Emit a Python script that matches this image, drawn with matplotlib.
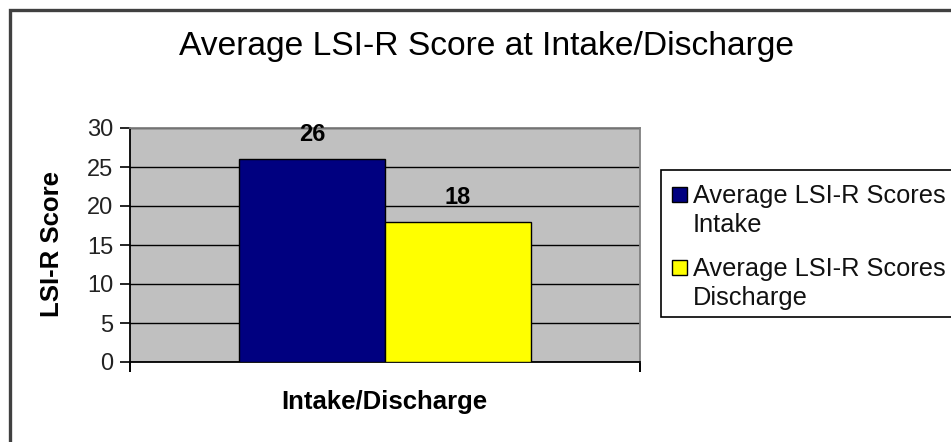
import matplotlib
matplotlib.use("Agg")
import matplotlib.pyplot as plt
from matplotlib.patches import Rectangle

plt.rcParams['font.family'] = ['Liberation Sans', 'DejaVu Sans']

series_names = ["Average LSI-R Scores\nIntake", "Average LSI-R Scores\nDischarge"]
series_values = [26, 18]
series_colors = ["#000080", "#FFFF00"]
category = "Intake/Discharge"
yticks = [0, 5, 10, 15, 20, 25, 30]

W, H = 951, 442
fig = plt.figure(figsize=(W / 100, H / 100), dpi=100)


def fx(px):
    return px / W


def fy(py):
    return 1 - py / H


# outer chart border
fig.patches.append(Rectangle((fx(10), -0.1), 1.2, (H - 10) / H + 0.1, transform=fig.transFigure,
                             fill=False, edgecolor="#404040", linewidth=2.4))

ax = fig.add_axes([fx(130), fy(362), 510 / W, (362 - 128) / H])
ax.set_facecolor("#C0C0C0")
ax.set_xlim(-0.5, 0.5)
ax.set_ylim(0, 30)

bw = 0.286
offsets = [-bw / 2, bw / 2]
for off, v, c, name in zip(offsets, series_values, series_colors, series_names):
    ax.bar(off, v, width=bw, color=c, edgecolor="black", linewidth=1.0, zorder=3, label=name)
    ax.text(off, v + 2.3, str(v), ha="center", va="baseline", fontsize=17, fontweight="bold", zorder=4)

ax.set_yticks(yticks)
ax.set_yticklabels([str(t) for t in yticks], fontsize=17, color="#222222")
ax.yaxis.grid(True, color="black", linewidth=1.0, zorder=1)
ax.set_axisbelow(True)
ax.tick_params(axis="y", direction="out", length=7, width=1.2, pad=5)
ax.set_xticks([-0.5, 0.5])
ax.set_xticklabels(["", ""])
ax.tick_params(axis="x", direction="out", length=7, width=1.4)

for s in ["left", "bottom"]:
    ax.spines[s].set_color("black")
    ax.spines[s].set_linewidth(1.3)
for s in ["top", "right"]:
    ax.spines[s].set_color("#808080")
    ax.spines[s].set_linewidth(1.3)

fig.text(fx(52), fy(244), "LSI-R Score", rotation=90, ha="center", va="center",
         fontsize=18.5, fontweight="bold")
fig.text(fx(384), fy(402), category, ha="center", va="center",
         fontsize=18.5, fontweight="bold")

fig.text(fx(486), fy(46), "Average LSI-R Score at Intake/Discharge",
         ha="center", va="center", fontsize=24.2)

# legend (frame runs past the right edge, as in the reference)
fig.patches.append(Rectangle((fx(661), fy(317)), 0.5, (317 - 170) / H, transform=fig.transFigure,
                             fill=True, facecolor="white", edgecolor="black", linewidth=1.2))
entry_tops = [187, 260]
line_gap = 29.5
for top, name, c in zip(entry_tops, series_names, series_colors):
    fig.patches.append(Rectangle((fx(672), fy(top + 15)), 15 / W, 15 / H, transform=fig.transFigure,
                                 facecolor=c, edgecolor="black", linewidth=1.0))
    for i, line in enumerate(name.split("\n")):
        fig.text(fx(693), fy(top + 16 + i * line_gap), line, ha="left", va="baseline",
                 fontsize=18.3, color="#111111")

fig.savefig("out.png", dpi=100, facecolor="white")
